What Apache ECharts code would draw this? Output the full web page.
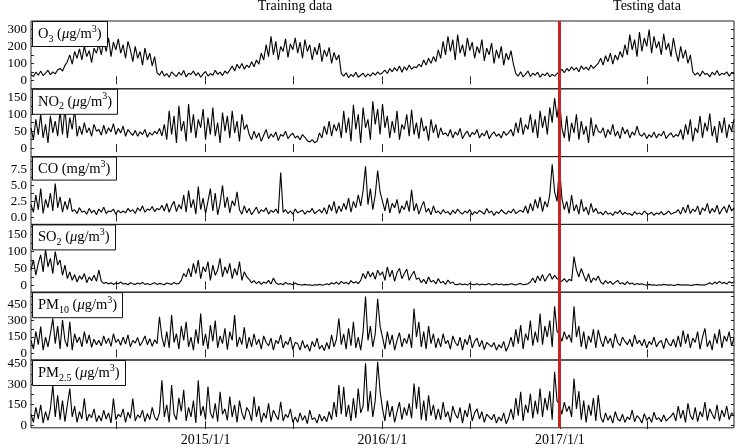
<!DOCTYPE html>
<html><head><meta charset="utf-8">
<script src="https://cdn.jsdelivr.net/npm/echarts@6/dist/echarts.min.js"></script>
<style>html,body{margin:0;padding:0;background:#fff}#c{width:736px;height:448px}</style>
</head><body><div id="c"></div>
<script>
// ---- data (one value every 5 days, starting 2014-01-06) ----
const startDate = [2014, 0, 6];
const stepDays = 5;
const splitDate = [2016, 11, 30];
const labelDates = [[2015,0,1],[2016,0,1],[2017,0,1]];
const tickDates = [[2014,6,1],[2015,0,1],[2015,6,1],[2016,0,1],[2016,6,1],[2017,0,1],[2017,6,1]];
const topLabels = ['Training data', 'Testing data'];

const o3 = [35,22,48,30,55,28,42,60,33,50,38,62, 70,55,88,
 110,150,95,170,130,185,120,200,140,175,105,190,160,
 215,150,235,170,250,140,225,180,245,160,210,130,230,
 180,110,200,130,170,90,190,120,160,85,140,
 45,30,55,25,40,18,50,35,22,48,30,58,20,42,35,55,28,45,18,38,52,25,40,30,60,35,48,28,55,40,
 60,85,55,95,70,100,65,90,75,110,80,120,95,
 160,120,210,140,260,150,230,120,200,170,245,135,215,180,250,
 160,225,130,240,170,210,120,195,150,220,110,180,140,195,100,165,120,150,
 40,25,45,15,35,22,48,18,30,42,20,38,25,45,30,50,35,
 45,60,40,70,50,75,55,85,48,80,60,90,65,80,75,
 95,80,120,90,130,100,140,110,
 180,130,230,150,260,170,240,120,270,160,210,140,250,175,225,130,200,160,240,115,190,150,220,100,180,130,200,90,160,120,175,95,
 40,25,50,20,35,55,22,42,30,48,18,38,28,45,20,35,25,40,
 50,65,45,70,55,80,60,75,50,85,65,78,60,90,70,85,
 100,130,90,145,110,160,95,150,120,170,135,
 210,150,270,180,240,140,285,170,250,200,300,160,260,190,230,150,275,180,220,140,250,
 170,110,200,130,180,100,150,
 50,30,45,25,55,35,40,20,48,32,58,28,42,35,50,25,45,38];

const no2 = [60,25,85,40,100,30,70,15,95,45,80,35,
 110,40,120,30,90,55,115,35,
 65,40,75,45,60,35,70,50,55,38,68,42,60,48,72,40,58,45,65,35,55,
 45,38,52,35,48,40,55,32,46,38,50,42,58,36,
 70,25,110,40,95,15,125,50,80,20,130,45,100,30,85,60,115,25,90,40,120,35,75,15,105,50,95,30,110,45,80,20,100,55,70,
 40,25,50,30,45,20,38,55,28,42,32,48,22,40,35,50,28,38,44,30,36,25,40,32,
 22,18,25,16,20,
 45,30,65,40,80,35,70,50,75,
 30,110,45,90,20,128,55,100,15,120,60,85,25,138,70,115,40,130,
 60,95,30,80,45,110,25,70,55,100,35,113,40,75,28,90,50,65,22,85,45,70,30,60,40,
 45,35,55,30,48,38,58,28,42,50,33,46,40,55,30,44,36,52,28,40,48,35,42,30,50,38,45,
 55,35,75,45,90,40,70,55,
 100,45,85,30,110,60,95,40,120,75,148,90,
 145,
 60,30,95,20,75,45,100,25,80,40,65,15,90,35,70,50,
 45,60,30,55,40,70,35,50,28,62,42,55,30,48,38,65,40,
 35,45,28,40,32,48,30,42,36,50,28,38,45,32,40,35,
 55,25,70,40,85,20,60,45,95,30,75,50,102,35,65,15,80,45,90,30,70,50,85];

const co = [2.0,0.8,3.5,1.2,4.5,0.6,2.8,1.5,3.8,1.0,
 5.3,
 1.5,3.2,0.8,2.5,1.2,3.0,0.9,
 1.2,0.6,1.5,0.8,1.0,0.5,1.4,0.7,1.1,0.4,1.3,0.8,1.6,0.6,1.0,0.9,1.3,0.5,1.1,0.7,
 1.0,0.7,1.4,0.9,1.2,0.6,1.5,1.0,1.8,0.8,1.3,1.1,1.7,0.9,1.4,1.2,1.9,
 1.0,2.2,0.8,1.8,2.5,0.9,2.0,1.3,
 3.5,0.8,4.2,1.5,2.8,0.5,4.8,1.2,3.0,0.6,2.5,4.5,1.0,3.8,0.4,2.2,5.0,1.5,3.2,0.7,2.6,1.8,4.0,
 1.2,0.5,1.8,0.7,1.4,0.4,1.0,1.6,0.6,1.2,0.9,1.5,0.5,1.1,0.8,1.3,0.6,
 7.0,
 0.8,1.2,0.6,1.0,0.5,1.3,0.7,0.9,1.1,0.5,1.0,0.8,1.4,0.6,0.9,1.2,
 0.7,1.5,0.5,2.0,1.0,2.5,0.6,1.8,0.9,2.2,1.2,3.0,0.8,2.5,1.5,3.5,1.8,4.2,
 8.0,
 2.0,4.5,1.2,3.5,
 7.3,
 4.0,
 2.5,1.0,3.0,0.7,2.2,1.5,2.8,0.6,1.8,1.2,2.6,0.9,4.3,
 1.0,2.2,0.5,1.6,2.5,0.8,1.4,0.4,1.8,0.7,
 1.0,0.5,1.2,0.7,0.9,0.4,1.1,0.6,1.3,0.8,0.5,1.0,0.7,1.2,0.4,0.9,0.6,1.1,0.8,0.5,1.4,0.7,1.0,0.3,0.9,0.6,1.2,0.8,0.5,1.0,0.7,1.3,0.6,0.9,1.1,
 0.8,1.8,0.6,2.2,1.0,2.8,1.4,3.2,0.9,2.5,1.6,3.5,
 8.3,4.0,
 2.5,
 8.1,
 3.0,1.2,2.5,0.6,3.5,1.0,2.0,0.5,2.8,0.9,1.6,0.4,2.2,0.8,1.4,0.6,
 0.8,0.4,1.0,0.5,0.7,0.3,0.9,0.6,1.1,0.4,0.8,0.5,0.6,0.3,0.9,0.5,0.7,0.4,1.0,0.6,0.5,0.8,0.3,0.7,0.5,0.9,0.4,0.6,1.0,0.5,0.7,0.8,
 1.2,0.5,1.6,0.7,2.0,0.6,1.3,0.9,1.8,0.4,1.5,1.0,2.2,0.6,1.4,0.8,1.9,0.5,1.2,1.7,0.7,2.0,1.0,1.5];

const so2 = [45,75,30,65,
 90,40,105,55,80,35,100,60,
 75,30,60,20,
 40,15,32,10,28,18,35,8,25,14,30,12,
 45,
 12,6,9,4,8,3,7,5,10,4,6,2,8,5,3,7,4,9,3,6,2,5,8,3,6,4,2,7,5,3,9,4,6,
 15,35,25,
 50,25,65,35,75,20,55,40,70,15,60,30,45,80,25,55,35,65,20,50,30,70,15,40,25,
 18,8,14,5,12,3,10,6,15,4,
 22,
 8,3,6,2,9,4,5,2,7,3,
 2,1,3,1,2,0,2,1,3,1,2,
 5,2,8,4,10,3,12,6,9,4,14,7,11,5,15,
 35,20,42,25,38,18,45,30,
 40,15,55,25,45,12,38,50,20,35,48,15,30,42,18,
 22,8,18,5,25,10,15,4,20,7,12,3,16,6,10,2,
 3,5,2,4,1,6,3,2,5,1,4,2,3,6,1,3,5,2,4,1,3,2,5,3,1,4,6,2,3,5,
 10,22,8,28,14,32,12,25,35,18,30,20,
 15,12,20,10,18,14,
 85,
 45,25,50,
 30,12,35,8,22,15,28,
 10,4,14,6,12,3,9,15,5,8,2,11,4,7,2,6,3,5,
 2,1,3,1,2,0,2,1,3,2,1,2,0,1,3,1,2,1,2,0,1,2,3,1,2,1,
 4,8,3,10,5,12,6,9,4,11,7,10];

const pm10 = [120,40,200,80,245,30,150,60,180,
 320,
 90,250,40,305,120,60,290,30,180,100,
 150,60,200,90,170,55,130,80,
 120,70,160,90,140,65,180,100,130,75,150,85,170,60,120,95,145,70,110,160,80,135,65,125,90,
 335,
 150,60,
 200,50,350,100,180,40,250,120,290,60,150,30,220,90,365,70,180,40,260,110,300,50,160,90,230,35,200,120,350,60,150,80,240,45,
 150,60,180,80,130,40,160,100,70,140,30,120,90,170,50,110,80,150,35,100,
 90,30,120,50,80,20,110,60,140,40,75,25,
 100,40,170,60,130,
 320,
 80,180,40,230,70,290,50,150,30,200,
 520,
 120,250,60,180,
 500,
 250,
 150,40,200,80,170,30,120,190,60,140,90,180,50,
 410,
 150,290,60,200,40,250,90,180,50,
 140,60,180,90,120,40,160,100,70,150,30,130,80,170,50,110,140,60,120,35,100,80,
 60,100,30,80,50,110,20,70,
 150,60,220,90,260,40,180,120,300,70,200,100,
 365,80,250,150,300,60,430,200,
 180,110,200,130,170,100,
 430,
 150,250,60,200,40,160,100,220,50,
 215,
 120,60,160,90,140,50,180,100,70,150,110,80,130,60,170,90,120,
 70,130,50,110,80,150,60,100,120,45,140,90,70,130,55,
 160,60,210,90,180,50,140,100,
 200,40,150,230,60,120,30,180,90,220,50,160,110,200,70,140];

const pm25 = [80,20,130,45,150,15,100,35,120,
 295,60,
 220,40,180,25,150,
 270,
 60,140,20,100,45,195,30,80,55,120,25,
 70,30,110,45,90,15,195,40,80,60,120,20,95,50,195,30,75,55,110,25,85,40,130,60,35,90,
 330,
 60,150,20,295,80,40,200,100,260,30,130,60,180,15,330,70,140,40,285,90,50,160,25,245,80,120,35,210,60,150,20,180,90,40,130,
 100,30,210,60,140,20,90,50,160,25,110,70,40,172,30,80,55,120,20,
 60,20,90,35,70,10,110,40,55,15,80,30,65,25,
 100,40,170,60,
 295,
 80,
 283,
 60,150,30,200,50,270,90,140,
 455,
 100,250,60,180,
 467,
 250,
 120,30,180,60,140,20,100,170,40,130,70,160,50,
 307,
 120,283,40,180,30,220,70,150,40,
 120,40,170,60,100,20,140,80,50,130,15,110,60,160,30,90,120,45,100,20,80,60,
 40,80,15,60,30,90,10,50,
 120,40,200,70,246,30,150,90,230,50,180,80,
 270,60,200,110,250,40,393,180,
 150,80,170,100,140,60,
 344,
 120,250,40,180,20,150,70,200,30,
 221,
 60,20,90,35,70,15,100,45,30,80,20,60,40,110,25,70,50,15,85,35,60,20,95,40,55,25,75,30,50,65,
 90,30,140,50,110,20,160,70,40,130,25,100,60,170,35,120,80,45,150,30,110,60,140,40,90,70];

const panelNames = [
  '{n|O}{sub|3}{n| (}{it|μ}{n|g/m}{sup|3}{n|)}',
  '{n|NO}{sub|2}{n| (}{it|μ}{n|g/m}{sup|3}{n|)}',
  '{n|CO (mg/m}{sup|3}{n|)}',
  '{n|SO}{sub|2}{n| (}{it|μ}{n|g/m}{sup|3}{n|)}',
  '{n|PM}{sub|10}{n| (}{it|μ}{n|g/m}{sup|3}{n|)}',
  '{n|PM}{sub|2.5}{n| (}{it|μ}{n|g/m}{sup|3}{n|)}'
];
const yMin = [-50, -25, -1.1, -20, -60, -20];
const yMax = [350, 175, 9.5, 180, 560, 480];
const yLabels = [[0,100,200,300],[0,50,100,150],[0,2.5,5,7.5],[0,50,100,150],[0,150,300,450],[0,150,300,450]];
const yTicks = [[0,50,100,150,200,250,300],[0,25,50,75,100,125,150],[0,1.25,2.5,3.75,5,6.25,7.5,8.75],
                [0,25,50,75,100,125,150,175],[0,75,150,225,300,375,450,525],[0,75,150,225,300,375,450]];

// ---- chart ----
const allSeries = [o3, no2, co, so2, pm10, pm25];
const FONT = '"Liberation Serif","Times New Roman",serif';
const dt = a => new Date(a[0], a[1], a[2]).getTime();
const dateOf = i => new Date(startDate[0], startDate[1], startDate[2] + i * stepDays).getTime();
const xMin = dateOf(0), xMax = dateOf(o3.length - 1);
const tickV = tickDates.map(dt), labV = labelDates.map(dt), splitTs = dt(splitDate);
const fmtDate = v => { const d = new Date(v); return d.getFullYear() + '/' + (d.getMonth() + 1) + '/' + d.getDate(); };

const TOP = 21, H = 67.8;
const grids = [], xAxes = [], yAxes = [], series = [], titles = [];
const base = {fontFamily: FONT, color: '#000', fontWeight: 'normal'};
const rich = {
  n: Object.assign({}, base, {fontSize: 14.5, lineHeight: 20}),
  it: Object.assign({}, base, {fontSize: 14.5, lineHeight: 20, fontStyle: 'italic'}),
  sub: Object.assign({}, base, {fontSize: 10, lineHeight: 10, verticalAlign: 'bottom'}),
  sup: Object.assign({}, base, {fontSize: 10, lineHeight: 10, verticalAlign: 'top'})
};
for (let p = 0; p < 6; p++) {
  const top = TOP + p * H;
  grids.push({left: 31, right: 2, top: top, height: H, show: true, borderColor: '#222', borderWidth: 1, backgroundColor: 'transparent'});
  const tick = {show: true, inside: true, length: 4, customValues: tickV, lineStyle: {color: '#222', width: 1}};
  xAxes.push({type: 'value', gridIndex: p, min: xMin, max: xMax, position: 'bottom', scale: true,
    axisLine: {show: false}, splitLine: {show: false}, axisTick: tick,
    axisLabel: {show: p === 5, customValues: labV, formatter: fmtDate, fontFamily: FONT, fontSize: 14, color: '#000', margin: 6}});
  xAxes.push({type: 'value', gridIndex: p, min: xMin, max: xMax, position: 'top', scale: true,
    axisLine: {show: false}, splitLine: {show: false}, axisTick: tick, axisLabel: {show: false}});
  const ytick = {show: true, inside: true, length: 3, customValues: yTicks[p], lineStyle: {color: '#222', width: 1}};
  const yfmt = p === 2 ? (v => Number(v).toFixed(1)) : (v => String(v));
  yAxes.push({type: 'value', gridIndex: p, min: yMin[p], max: yMax[p], position: 'left',
    axisLine: {show: false}, splitLine: {show: false}, axisTick: ytick,
    axisLabel: {customValues: yLabels[p], formatter: yfmt, fontFamily: FONT, fontSize: 13, color: '#000', margin: 4}});
  yAxes.push({type: 'value', gridIndex: p, min: yMin[p], max: yMax[p], position: 'right',
    axisLine: {show: false}, splitLine: {show: false}, axisTick: ytick, axisLabel: {show: false}});
  series.push({type: 'line', xAxisIndex: 2 * p, yAxisIndex: 2 * p,
    data: allSeries[p].map((v, i) => [dateOf(i), v]),
    showSymbol: false, symbol: 'none', lineStyle: {color: '#000', width: 1.1}, animation: false,
    markLine: {silent: true, symbol: 'none', animation: false, label: {show: false},
      lineStyle: {color: '#cc2222', width: 3, type: 'solid'}, data: [{xAxis: splitTs}]}});
  titles.push({text: panelNames[p], left: 32, top: top, padding: [3, 6, 3, 6],
    backgroundColor: '#fff', borderColor: '#111', borderWidth: 1,
    textStyle: {fontWeight: 'normal', fontFamily: FONT, color: '#000', rich: rich}});
}

const chart = echarts.init(document.getElementById('c'), null, {renderer: 'canvas'});
chart.setOption({
  animation: false,
  backgroundColor: '#fff',
  title: titles,
  grid: grids, xAxis: xAxes, yAxis: yAxes, series: series,
  graphic: [
    {type: 'text', x: 295, y: -1, style: {text: topLabels[0], font: '14px ' + FONT, fill: '#000', align: 'center', verticalAlign: 'top'}},
    {type: 'text', x: 647, y: -1, style: {text: topLabels[1], font: '14px ' + FONT, fill: '#000', align: 'center', verticalAlign: 'top'}}
  ]
});
</script></body></html>
